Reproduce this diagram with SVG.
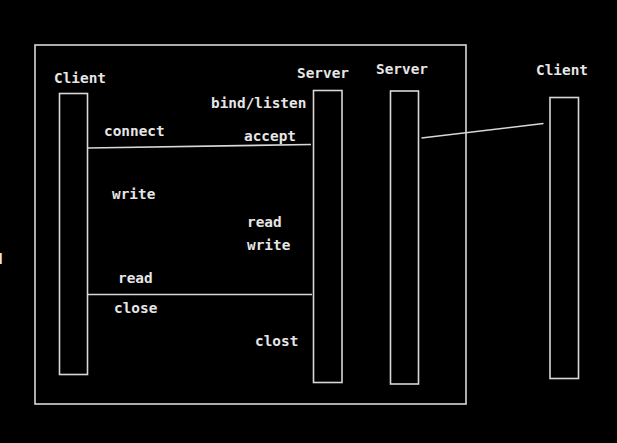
<svg xmlns="http://www.w3.org/2000/svg" width="617" height="443" viewBox="0 0 617 443">
<style>
.bg{fill:#000}
.box{fill:none;stroke:#d8d8d8;stroke-width:1.6}
.ln{fill:none;stroke:#d8d8d8;stroke-width:1.6}
text{font-family:"DejaVu Sans Mono","Liberation Mono",monospace;font-size:14.4px;font-weight:bold;fill:#e6e6e6}
</style>
<rect class="bg" x="0" y="0" width="617" height="443"/>
<g id="frame"><rect class="box" x="35" y="45" width="431" height="359"/></g>
<g id="client-left">
<rect class="box" x="59.5" y="93.5" width="28" height="281"/>
<text x="54" y="83">Client</text>
</g>
<g id="server-1">
<rect class="box" x="313.5" y="90.5" width="28.5" height="292"/>
<text x="297" y="78">Server</text>
</g>
<g id="server-2">
<rect class="box" x="390.5" y="91" width="28" height="293"/>
<text x="376" y="74">Server</text>
</g>
<g id="client-right">
<rect class="box" x="550" y="97.5" width="28.5" height="281"/>
<text x="536" y="75">Client</text>
</g>
<g id="labels">
<text x="211" y="108">bind/listen</text>
<text x="104" y="136">connect</text>
<text x="244" y="141">accept</text>
<text x="112" y="199">write</text>
<text x="247" y="227">read</text>
<text x="247" y="250">write</text>
<text x="118" y="283">read</text>
<text x="114" y="313">close</text>
<text x="255" y="346">clost</text>
<text x="-6" y="264">d</text>
</g>
<g id="connectors">
<line class="ln" x1="88" y1="148" x2="311" y2="144.5"/>
<line class="ln" x1="88" y1="294.5" x2="312" y2="294.5"/>
<line class="ln" x1="421.5" y1="138" x2="543.5" y2="123.5"/>
</g>
</svg>
